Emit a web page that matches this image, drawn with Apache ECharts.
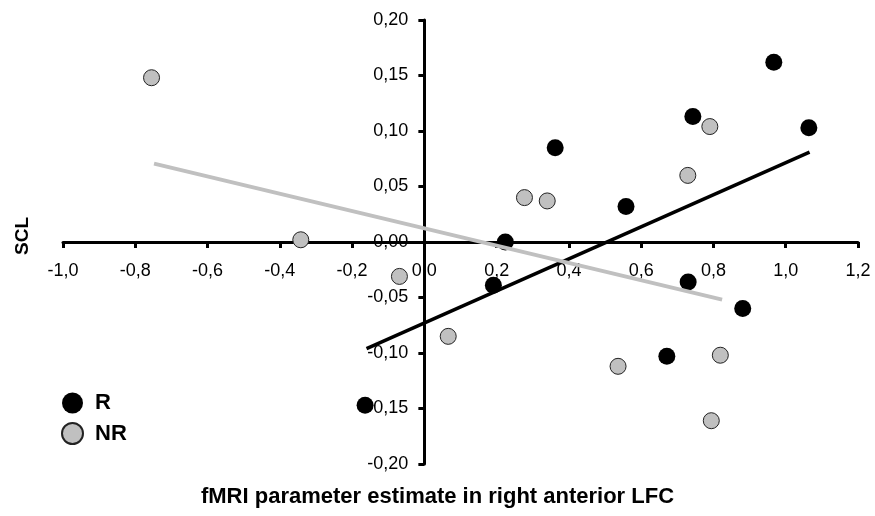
<!DOCTYPE html>
<html>
<head>
<meta charset="utf-8">
<script src="https://cdn.jsdelivr.net/npm/echarts@6/dist/echarts.min.js"></script>
<style>html,body{margin:0;padding:0;background:#fff;}#c{width:875px;height:516px;}</style>
</head>
<body>
<div id="c"></div>
<script>
// Responders (R)
const rX = [0.967, 0.743, 1.064, 0.362, 0.558, 0.224, 0.191, 0.730, 0.881, 0.671, -0.164];
const rY = [0.162, 0.113, 0.103, 0.085, 0.032, 0.000, -0.039, -0.036, -0.060, -0.103, -0.147];
// Non-responders (NR)
const nrX = [-0.755, -0.342, -0.069, 0.277, 0.340, 0.729, 0.790, 0.066, 0.536, 0.819, 0.794];
const nrY = [0.148, 0.002, -0.031, 0.040, 0.037, 0.060, 0.104, -0.085, -0.112, -0.102, -0.161];
// Regression line endpoints
const rFitX = [-0.160, 1.066];
const rFitY = [-0.096, 0.081];
const nrFitX = [-0.748, 0.824];
const nrFitY = [0.0706, -0.0519];

const zip = (a, b) => a.map((v, i) => [v, b[i]]);
const FONT = '"Liberation Sans", Arial, sans-serif';

// layout: grid geometry so the axes can be moved onto the zero lines
const W = 875, H = 516, GL = 63, GR = 17, GT = 20, GB = 52;
const XMIN = -1.0, XMAX = 1.2, YMIN = -0.2, YMAX = 0.2;
const gw = W - GL - GR, gh = H - GT - GB;
const yAxisOffset = -gw * (0 - XMIN) / (XMAX - XMIN);   // move y axis to x=0
const xAxisOffset = -gh * (0 - YMIN) / (YMAX - YMIN);   // move x axis to y=0

const chart = echarts.init(document.getElementById('c'), null, {renderer: 'canvas'});
chart.setOption({
  animation: false,
  backgroundColor: '#fff',
  grid: {left: GL, right: GR, top: GT, bottom: GB, containLabel: false},
  xAxis: {
    type: 'value', min: XMIN, max: XMAX, interval: 0.2, position: 'bottom', offset: xAxisOffset,
    axisLine: {onZero: false, lineStyle: {color: '#000', width: 3}},
    axisTick: {show: true, inside: false, length: 6, lineStyle: {color: '#000', width: 3}},
    axisLabel: {margin: 20, fontSize: 18, color: '#000', fontFamily: FONT,
      formatter: v => (Math.abs(v) < 1e-9 ? 0 : v).toFixed(1).replace('.', ',')},
    splitLine: {show: false}
  },
  yAxis: {
    type: 'value', min: YMIN, max: YMAX, interval: 0.05, position: 'left', offset: yAxisOffset,
    axisLine: {onZero: false, lineStyle: {color: '#000', width: 3}},
    axisTick: {show: true, inside: false, length: 6, lineStyle: {color: '#000', width: 3}},
    axisLabel: {margin: 16, fontSize: 18, color: '#000', fontFamily: FONT,
      formatter: v => (Math.abs(v) < 1e-9 ? 0 : v).toFixed(2).replace('.', ',')},
    splitLine: {show: false}
  },
  legend: {
    data: ['R', 'NR'], orient: 'vertical', left: 56, top: 387,
    itemWidth: 21, itemHeight: 21, itemGap: 8, icon: 'circle',
    textStyle: {fontSize: 22, fontWeight: 'bold', color: '#000', fontFamily: FONT, padding: [0, 0, 0, 7]}
  },
  graphic: [
    {type: 'text', left: 13, top: 217, rotation: Math.PI / 2,
      style: {text: 'SCL', font: 'bold 19px ' + FONT, fill: '#000'}},
    {type: 'text', left: 'center', top: 486,
      style: {text: 'fMRI parameter estimate in right anterior LFC', font: 'bold 22px ' + FONT, fill: '#000'}}
  ],
  series: [
    {name: 'R', type: 'scatter', data: zip(rX, rY), symbol: 'circle', symbolSize: 17,
      itemStyle: {color: '#000', opacity: 1, borderColor: '#000', borderWidth: 0}, z: 2},
    {name: 'NR', type: 'scatter', data: zip(nrX, nrY), symbol: 'circle', symbolSize: 16,
      itemStyle: {color: '#c0c0c0', opacity: 1, borderColor: '#222', borderWidth: 1}, z: 2},
    {name: 'R fit', type: 'line', data: zip(rFitX, rFitY), symbol: 'none',
      lineStyle: {color: '#000', width: 3.5}, z: 3},
    {name: 'NR fit', type: 'line', data: zip(nrFitX, nrFitY), symbol: 'none',
      lineStyle: {color: '#c0c0c0', width: 4}, z: 3}
  ]
});
</script>
</body>
</html>
